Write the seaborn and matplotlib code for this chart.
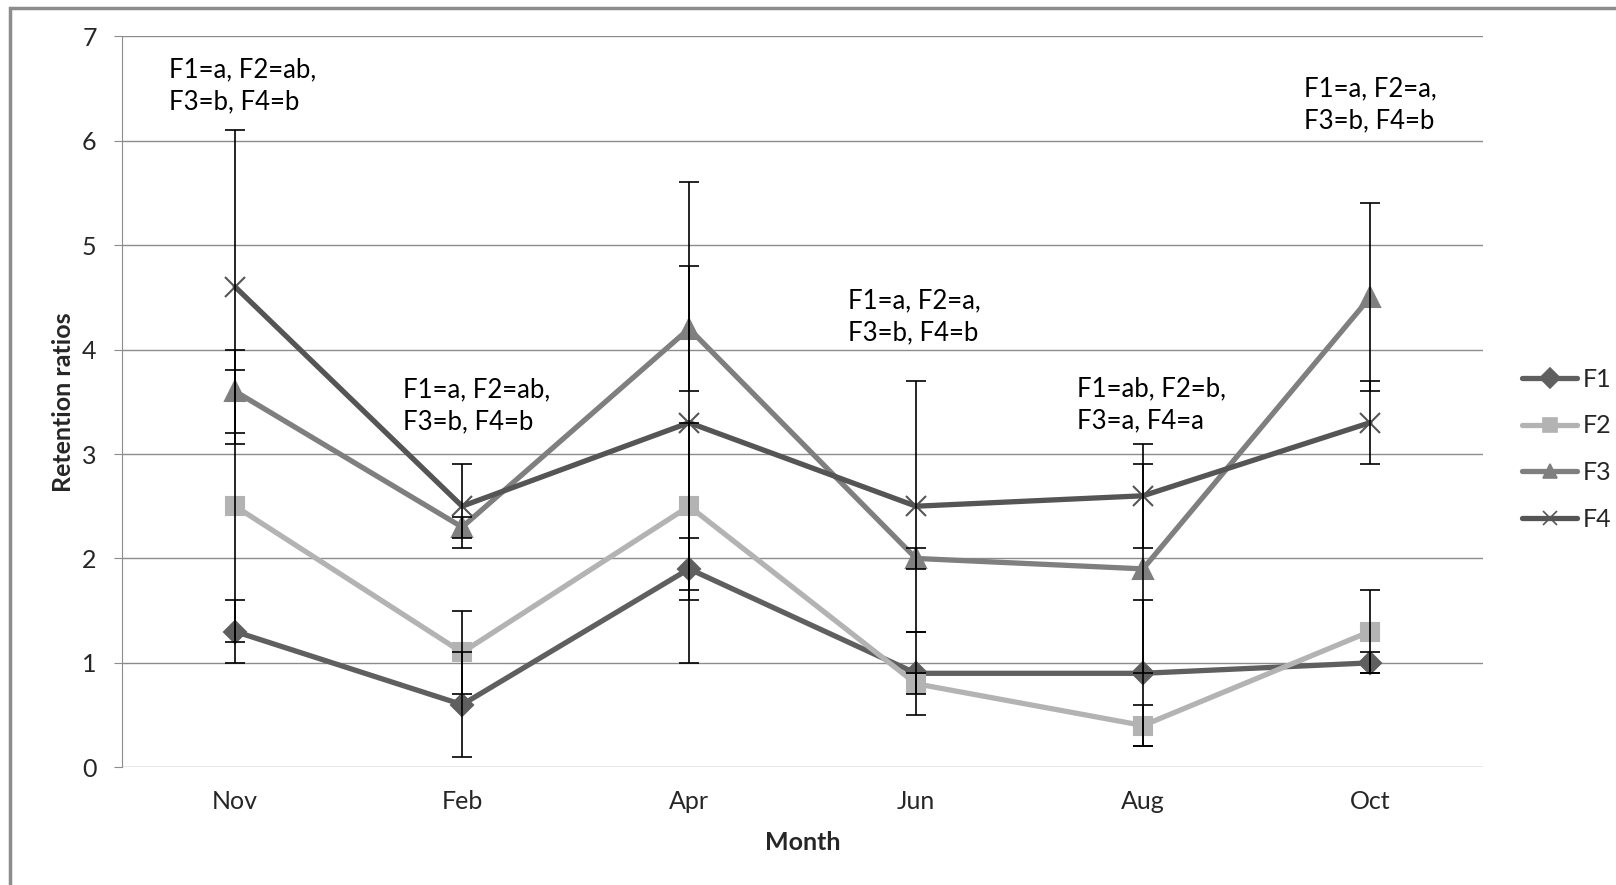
import pandas as pd
import matplotlib.pyplot as plt
import seaborn as sns
from matplotlib.patches import Rectangle
from matplotlib.lines import Line2D

# Data
months = ["Nov", "Feb", "Apr", "Jun", "Aug", "Oct"]
groups = ["F1", "F2", "F3", "F4"]
f1 = [1.3, 0.6, 1.9, 0.9, 0.9, 1.0]
f2 = [2.5, 1.1, 2.5, 0.8, 0.4, 1.3]
f3 = [3.6, 2.3, 4.2, 2.0, 1.9, 4.5]
f4 = [4.6, 2.5, 3.3, 2.5, 2.6, 3.3]
f1_err = [0.3, 0.5, 0.3, 0.4, 0.7, 0.1]
f2_err = [1.3, 0.4, 0.8, 0.1, 0.2, 0.4]
f3_err = [0.4, 0.1, 0.6, 0.1, 1.0, 0.9]
f4_err = [1.5, 0.4, 2.3, 1.2, 0.5, 0.4]

notes = ["F1=a, F2=ab,\nF3=b, F4=b", "F1=a, F2=ab,\nF3=b, F4=b",
         "F1=a, F2=a,\nF3=b, F4=b", "F1=ab, F2=b,\nF3=a, F4=a",
         "F1=a, F2=a,\nF3=b, F4=b"]
note_x = [-0.29, 0.74, 2.70, 3.71, 4.71]
note_y = [6.53, 3.46, 4.31, 3.47, 6.34]

values = [f1, f2, f3, f4]
errors = [f1_err, f2_err, f3_err, f4_err]
df = pd.DataFrame({
    "Month": months * 4,
    "x": list(range(6)) * 4,
    "Group": [g for g in groups for _ in months],
    "Ratio": [v for s in values for v in s],
    "Err": [e for s in errors for e in s],
})

sns.set_style("white")
plt.rcParams["font.family"] = ["Lato", "DejaVu Sans"]

palette = {"F1": "#5f5f5f", "F2": "#b3b3b3", "F3": "#7f7f7f", "F4": "#555555"}
markers = {"F1": "D", "F2": "s", "F3": "^", "F4": "x"}
msizes = {"F1": 11, "F2": 13, "F3": 14, "F4": 14}

fig = plt.figure(figsize=(16.16, 8.85), dpi=100)
ax = fig.add_axes([0.0753, 0.133, 0.8427, 0.826])

ax.grid(axis="y", color="#8c8c8c", lw=1)
ax.set_axisbelow(True)

for g in groups:
    sub = df[df["Group"] == g]
    sns.lineplot(data=sub, x="x", y="Ratio", color=palette[g], marker=markers[g],
                 markersize=msizes[g], markeredgewidth=1.5,
                 markeredgecolor=palette[g], lw=3.8, ax=ax, zorder=3)
    ax.errorbar(sub["x"], sub["Ratio"], yerr=sub["Err"], fmt="none",
                ecolor="black", elinewidth=1.2, capsize=7, capthick=1.2, zorder=4)

for t, x, y in zip(notes, note_x, note_y):
    ax.text(x, y, t, ha="left", va="center", fontsize=18.5,
            linespacing=1.35, color="black")

ax.set_xlim(-0.5, 5.5)
ax.set_ylim(0, 7)
ax.set_xticks(range(6))
ax.set_xticklabels(months)
ax.set_yticks(range(8))
ax.tick_params(axis="x", length=0, labelsize=18, pad=16)
ax.tick_params(axis="y", length=6, color="#8c8c8c", labelsize=18, pad=12, left=True)
for s in ["top", "right", "bottom"]:
    ax.spines[s].set_visible(False)
ax.spines["left"].set_color("#8c8c8c")
ax.set_xlabel("Month", fontsize=18, fontweight="bold", labelpad=13)
ax.set_ylabel("Retention ratios", fontsize=18, fontweight="bold", labelpad=5)

# legend proxies with smaller markers
handles = [Line2D([], [], color=palette[g], marker=markers[g], markersize=10,
                  markeredgewidth=1.2, markeredgecolor=palette[g], lw=3.8)
           for g in groups]
ax.legend(handles, groups, loc="center left", bbox_to_anchor=(1.0286, 0.435),
          frameon=False, fontsize=18, handlelength=2.2, handletextpad=0.2,
          labelspacing=0.95, borderpad=0, borderaxespad=0)

fig.patches.append(Rectangle((10 / 1616, -0.1), 1.2, 1 - 8 / 885 + 0.1,
                             transform=fig.transFigure, fill=False,
                             edgecolor="#8c8c8c", lw=2.5))

fig.savefig("out.png", dpi=100)
